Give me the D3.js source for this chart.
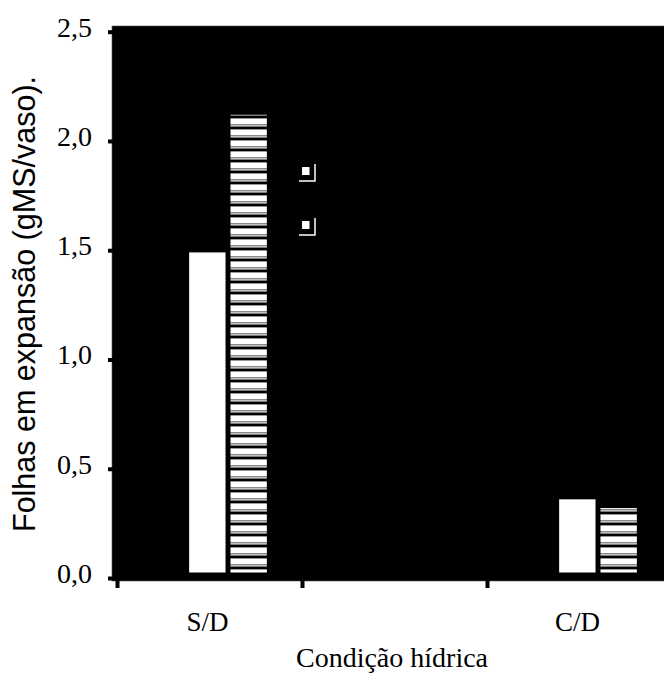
<!DOCTYPE html>
<html>
<head>
<meta charset="utf-8">
<script src="https://cdn.jsdelivr.net/npm/d3@7"></script>
<style>
  html, body { margin: 0; padding: 0; background: #fff; }
  #chart { width: 664px; height: 675px; }
  .serif { font-family: "Liberation Serif", "Times New Roman", serif; }
  .sans { font-family: "Liberation Sans", Arial, sans-serif; }
</style>
</head>
<body>
<div id="chart"></div>
<script>
const categories = ["S/D", "", "C/D"];
const series = ["branco", "listrado"];
const valuesBranco = [1.49, null, 0.36];
const valuesListrado = [2.12, null, 0.32];
const yTicks = [0, 0.5, 1.0, 1.5, 2.0, 2.5];
const yTitle = "Folhas em expansão (gMS/vaso).";
const xTitle = "Condição hídrica";

const W = 664, H = 675;
const svg = d3.select("#chart").append("svg")
    .attr("width", W)
    .attr("height", H);

// slots of the x axis (one per category, middle one empty)
const xScale = d3.scaleLinear()
    .domain([0, categories.length])
    .range([117, 672]);
const slotW = xScale(1) - xScale(0);

const yScale = d3.scaleLinear()
    .domain([0, 2.5])
    .range([578, 31.7]);

const seriesScale = d3.scaleBand()
    .domain(series)
    .range([0.39 * slotW, 0.81 * slotW])
    .paddingInner(0.12);

// stripe pattern
const defs = svg.append("defs");
const pat = defs.append("pattern")
    .attr("id", "stripes")
    .attr("patternUnits", "userSpaceOnUse")
    .attr("width", 20).attr("height", 11);
pat.append("rect").attr("width", 20).attr("height", 11).attr("fill", "#fff");
pat.append("rect").attr("y", 3).attr("width", 20).attr("height", 1.5).attr("fill", "#888");
pat.append("rect").attr("y", 5.5).attr("width", 20).attr("height", 2.5).attr("fill", "#000");
pat.append("rect").attr("y", 8).attr("width", 20).attr("height", 1).attr("fill", "#999");

// plot background
svg.append("rect")
    .attr("x", 112)
    .attr("y", 26)
    .attr("width", xScale(categories.length) - 112)
    .attr("height", 581 - 26)
    .attr("fill", "#000")
    .attr("stroke", "#555")
    .attr("stroke-width", 0.6);

// bars
const barData = [];
categories.forEach((c, i) => {
    if (valuesBranco[i] != null) barData.push({ i, s: "branco", v: valuesBranco[i] });
    if (valuesListrado[i] != null) barData.push({ i, s: "listrado", v: valuesListrado[i] });
});
const baseGap = 5.5;
svg.append("g").selectAll("rect")
    .data(barData)
    .join("rect")
    .attr("x", d => xScale(d.i) + seriesScale(d.s))
    .attr("width", seriesScale.bandwidth())
    .attr("y", d => yScale(d.v))
    .attr("height", d => yScale(0) - baseGap - yScale(d.v))
    .attr("fill", d => d.s === "branco" ? "#fff" : "url(#stripes)");

// legend (markers only, as in the original)
const legend = svg.append("g")
    .selectAll("g")
    .data(series)
    .join("g")
    .attr("transform", (d, i) => `translate(302, ${167 + i * 54})`);
legend.append("rect")
    .attr("width", 7.5).attr("height", 8)
    .attr("fill", "#fff");
legend.append("path")
    .attr("d", "M-3,14 H13 V-3")
    .attr("fill", "none")
    .attr("stroke", "#fff")
    .attr("stroke-width", 1.5);

// y axis
const fmt = d => d3.format(".1f")(d).replace(".", ",");
const yAxis = svg.append("g")
    .attr("transform", "translate(113,0)")
    .call(d3.axisLeft(yScale).tickValues(yTicks).tickFormat(fmt).tickSize(5).tickPadding(16));
yAxis.select(".domain").remove();
yAxis.selectAll(".tick line").attr("stroke", "#000").attr("stroke-width", 4);
yAxis.selectAll(".tick text")
    .attr("class", "serif")
    .attr("dy", "0.16em")
    .style("font-size", "28px")
    .attr("fill", "#000");

// x axis
const xAxis = svg.append("g")
    .attr("transform", `translate(0, ${yScale(0)})`)
    .call(d3.axisBottom(xScale).tickValues(d3.range(categories.length + 1)).tickFormat("").tickSize(10));
xAxis.select(".domain").remove();
xAxis.selectAll(".tick line").attr("stroke", "#000").attr("stroke-width", 4);

// category labels
svg.append("g").selectAll("text")
    .data(categories.map((c, i) => ({ c, i })).filter(d => d.c))
    .join("text")
    .attr("class", "serif")
    .attr("x", d => xScale(d.i) + slotW / 2 - 2)
    .attr("y", 631)
    .attr("text-anchor", "middle")
    .style("font-size", "27px")
    .text(d => d.c);

// titles
svg.append("text")
    .attr("class", "serif")
    .attr("x", 392)
    .attr("y", 667)
    .attr("text-anchor", "middle")
    .style("font-size", "28px")
    .text(xTitle);

svg.append("text")
    .attr("class", "sans")
    .attr("transform", "translate(35, 304) rotate(-90)")
    .attr("text-anchor", "middle")
    .style("font-size", "30.5px")
    .text(yTitle);
</script>
</body>
</html>
